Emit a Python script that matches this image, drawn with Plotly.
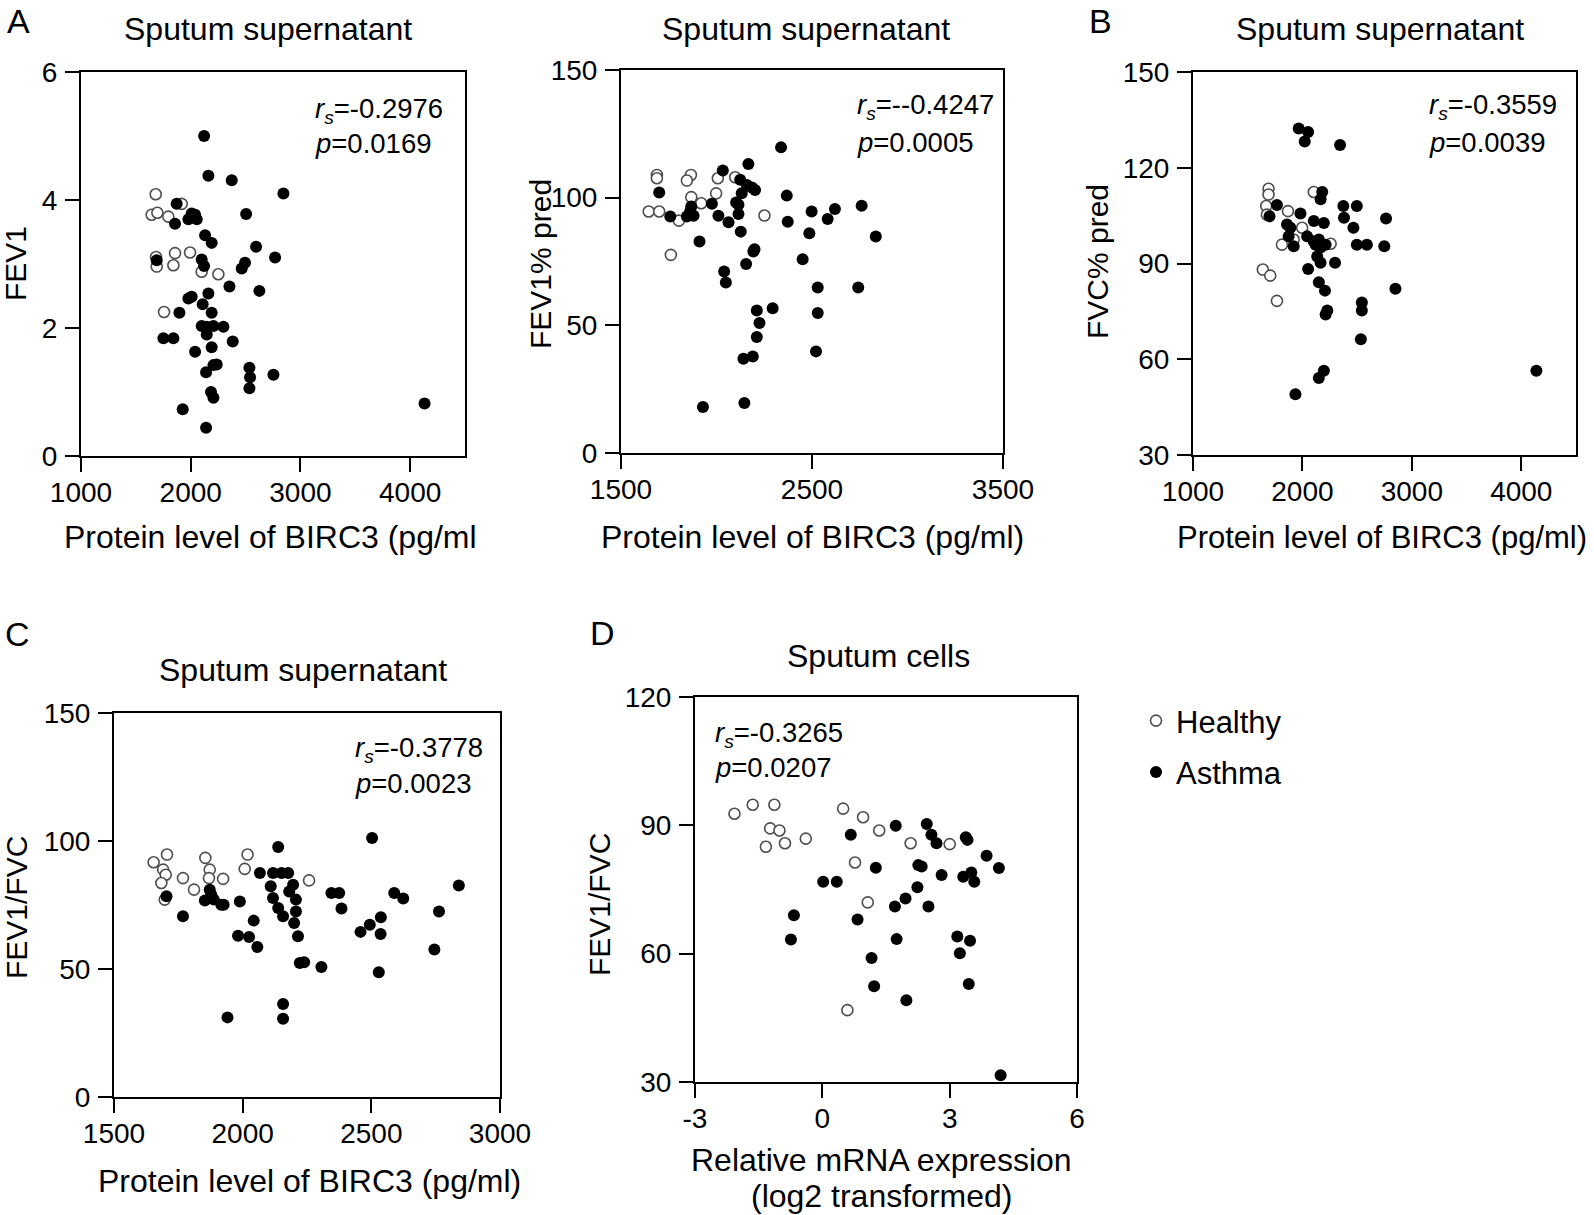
import plotly.graph_objects as go

W, H = 1594, 1215
FONT = "Arial, Liberation Sans, sans-serif"

# ---------------- data ----------------
# Panel A (left): FEV1 vs BIRC3 protein
a1_healthy_x = [1681, 1644, 1696, 1796, 1918, 1684, 1690, 1857, 1842, 1994, 2100, 2252, 1757]
a1_healthy_y = [4.09, 3.77, 3.80, 3.74, 3.94, 3.11, 2.96, 3.17, 2.98, 3.18, 2.88, 2.84, 2.25]
a1_asthma_x = [2122, 2161, 2374, 2845, 1872, 2009, 2040, 1979, 2055, 1857, 2505, 2131, 2191, 2596,
               2769, 1690, 2100, 2122, 2495, 2465, 2353, 2626, 2161, 1979, 2009, 2109, 2191, 1897,
               2100, 2146, 2207, 2298, 2146, 1751, 1842, 2383, 2040, 2191, 2237, 2207, 2140, 2535,
               2541, 2535, 2754, 2185, 2207, 1927, 2140, 4131]
a1_asthma_y = [5.00, 4.38, 4.31, 4.10, 3.94, 3.79, 3.77, 3.70, 3.70, 3.63, 3.78, 3.45, 3.33, 3.27,
               3.10, 3.06, 3.07, 2.97, 3.02, 2.93, 2.65, 2.58, 2.54, 2.46, 2.49, 2.37, 2.24, 2.24,
               2.03, 2.02, 2.03, 2.02, 1.90, 1.84, 1.84, 1.79, 1.63, 1.70, 1.43, 1.42, 1.31, 1.38,
               1.23, 1.06, 1.27, 1.00, 0.91, 0.73, 0.44, 0.82]

# Panel A (right): FEV1% pred vs BIRC3 protein
a2_healthy_x = [1688, 1688, 1866, 1845, 2007, 2098, 1868, 1998, 1920, 1645, 1700, 1803, 2251, 1761]
a2_healthy_y = [108.9, 107.6, 108.9, 106.7, 107.6, 108.0, 100.2, 101.7, 97.8, 94.6, 94.6, 91.0, 93.0, 77.6]
a2_asthma_x = [2338, 2167, 2033, 1700, 2124, 2159, 2185, 2202, 2132, 2368, 2103, 2115, 1976, 1868,
               1862, 1880, 1845, 1758, 2010, 2063, 2115, 2498, 2760, 2620, 2582, 2373, 2127, 2486,
               2834, 1911, 2199, 2193, 2451, 2155, 2040, 2049, 2530, 2742, 2294, 2211, 2225, 2530,
               2211, 2141, 2190, 2521, 1929, 2146]
a2_asthma_y = [119.7, 113.2, 110.6, 102.0, 107.0, 105.0, 104.0, 103.0, 101.7, 100.8, 98.1, 97.2, 97.6, 96.5,
               94.6, 92.9, 92.6, 92.6, 92.9, 90.4, 93.6, 94.6, 96.8, 95.6, 91.6, 90.6, 86.7, 86.1,
               84.8, 82.8, 79.8, 78.9, 75.9, 74.0, 71.1, 66.8, 64.8, 64.8, 56.7, 55.8, 50.9, 54.8,
               45.4, 36.9, 37.8, 39.8, 18.0, 19.6]

# Panel B: FVC% pred vs BIRC3 protein
b_healthy_x = [1690, 1690, 1669, 1675, 1868, 2104, 1997, 1920, 1813, 2258, 1638, 1706, 1767]
b_healthy_y = [113.4, 111.6, 108.0, 105.3, 106.4, 112.4, 101.2, 97.5, 95.9, 96.2, 88.1, 86.2, 78.3]
b_asthma_x = [1966, 2052, 2021, 2344, 2181, 2166, 2374, 2497, 1767, 1699, 1982, 2380, 2764, 2466,
              1859, 1890, 2104, 2196, 1874, 1920, 2043, 2104, 2150, 2212, 2166, 2120, 2497, 2589,
              2748, 2135, 2166, 2298, 2052, 2150, 2206, 2850, 2543, 2543, 2227, 2212, 2534, 2196,
              2150, 1936, 4138]
b_asthma_y = [132.3, 131.2, 128.2, 127.1, 112.4, 110.1, 108.0, 108.0, 108.3, 104.8, 105.7, 104.3, 104.1, 101.2,
              102.2, 101.2, 103.3, 102.7, 98.5, 95.4, 98.5, 96.9, 97.5, 95.9, 95.0, 95.9, 95.9, 95.9,
              95.4, 92.2, 90.2, 90.2, 88.3, 84.1, 81.5, 82.1, 77.8, 75.3, 75.3, 74.0, 66.3, 56.4,
              54.1, 49.0, 56.4]

# Panel C: FEV1/FVC vs BIRC3 protein
c_healthy_x = [1654, 1691, 1701, 1684, 1697, 1706, 1768, 1811, 1855, 1872, 1869, 1924, 2019, 2008, 2258]
c_healthy_y = [91.7, 88.8, 86.8, 83.6, 77.1, 94.7, 85.5, 81.0, 93.4, 88.8, 85.5, 85.2, 94.7, 89.1, 84.6]
c_asthma_x = [2138, 2503, 1704, 1768, 1872, 1878, 1853, 1888, 1917, 1926, 1989, 2067, 2118, 2151,
              2177, 2109, 2118, 2138, 2157, 2196, 2181, 2207, 2207, 2200, 2215, 2222, 2239, 2306,
              1982, 2025, 2043, 2057, 1941, 2157, 2157, 2345, 2375, 2384, 2458, 2494, 2537, 2536,
              2529, 2589, 2624, 2763, 2745, 2840]
c_asthma_y = [97.7, 101.2, 78.4, 70.6, 81.0, 79.0, 76.8, 77.1, 75.1, 75.1, 76.4, 87.5, 87.5, 87.5,
              87.5, 82.3, 77.7, 73.8, 70.6, 82.9, 80.3, 77.1, 72.5, 68.0, 62.8, 52.3, 52.6, 50.8,
              63.0, 62.5, 68.9, 58.6, 31.1, 36.3, 30.6, 79.7, 79.7, 73.6, 64.5, 67.3, 70.2, 63.7,
              48.7, 79.7, 77.5, 72.5, 57.6, 82.6]

# Panel D: FEV1/FVC vs BIRC3 mRNA (log2)
d_healthy_x = [-2.07, -1.64, -1.13, -1.23, -1.01, -1.33, -0.88, -0.39, 0.49, 0.96, 1.34, 0.77, 2.08, 3.00, 1.07, 0.59]
d_healthy_y = [92.7, 94.8, 94.8, 89.3, 88.8, 85.0, 85.8, 86.9, 93.9, 91.9, 88.8, 81.3, 85.8, 85.6, 72.0, 46.8]
d_asthma_x = [0.67, 1.73, 2.46, 2.57, 2.69, 3.38, 3.42, 3.87, 4.16, 1.26, 0.02, 0.34, 2.26, 2.34,
              2.81, 3.32, 3.51, 3.58, 2.24, 1.96, 1.71, 2.50, 0.83, -0.67, -0.74, 1.75, 3.18, 3.24,
              3.48, 1.16, 1.22, 3.45, 1.98, 4.20]
d_asthma_y = [87.8, 89.9, 90.3, 87.8, 85.8, 87.2, 86.6, 82.9, 80.0, 80.1, 76.8, 76.8, 80.7, 80.4,
              78.4, 78.0, 79.0, 76.8, 75.5, 72.9, 71.0, 71.0, 68.0, 69.0, 63.3, 63.4, 64.0, 60.1,
              63.0, 59.0, 52.4, 52.9, 49.1, 31.6]

panel_titles = ["Sputum supernatant", "Sputum supernatant", "Sputum supernatant",
                "Sputum supernatant", "Sputum cells"]
y_titles = ["FEV1", "FEV1% pred", "FVC% pred", "FEV1/FVC", "FEV1/FVC"]
rs_texts = ["-0.2976", "--0.4247", "-0.3559", "-0.3778", "-0.3265"]
p_texts = ["0.0169", "0.0005", "0.0039", "0.0023", "0.0207"]
x_ranges = [[1000, 4500], [1500, 3500], [1000, 4500], [1500, 3000], [-3, 6]]
x_ticks = [[1000, 2000, 3000, 4000], [1500, 2500, 3500], [1000, 2000, 3000, 4000],
           [1500, 2000, 2500, 3000], [-3, 0, 3, 6]]
y_ranges = [[0, 6], [0, 150], [30, 150], [0, 150], [30, 120]]
y_ticks = [[0, 2, 4, 6], [0, 50, 100, 150], [30, 60, 90, 120, 150], [0, 50, 100, 150], [30, 60, 90, 120]]
group_names = ["Healthy", "Asthma"]

healthy = [(a1_healthy_x, a1_healthy_y), (a2_healthy_x, a2_healthy_y), (b_healthy_x, b_healthy_y),
           (c_healthy_x, c_healthy_y), (d_healthy_x, d_healthy_y)]
asthma = [(a1_asthma_x, a1_asthma_y), (a2_asthma_x, a2_asthma_y), (b_asthma_x, b_asthma_y),
          (c_asthma_x, c_asthma_y), (d_asthma_x, d_asthma_y)]

# ---------------- layout geometry (pixels) ----------------
boxes = [(81, 465, 72, 456), (621, 1003, 70, 453), (1193, 1576, 72, 455),
         (114, 500, 713, 1097), (695, 1077, 697, 1082)]


def px(x):
    return x / W


def py(y):
    return 1 - y / H


def fmt(v):
    return str(v)  # plain hyphen-minus as in the reference


fig = go.Figure()
layout = dict(width=W, height=H, margin=dict(l=0, r=0, t=0, b=0, autoexpand=False),
              paper_bgcolor="white", plot_bgcolor="white",
              font=dict(family=FONT, color="black", size=28))

for i in range(5):
    sfx = "" if i == 0 else str(i + 1)
    xa, ya = "x" + sfx, "y" + sfx
    hx, hy = healthy[i]
    ax_, ay_ = asthma[i]
    fig.add_trace(go.Scatter(x=hx, y=hy, mode="markers", name=group_names[0], xaxis=xa, yaxis=ya,
                             legendgroup="h", showlegend=(i == 0),
                             marker=dict(size=11, color="white", symbol="circle",
                                         line=dict(color="#4d4d4d", width=1.6))))
    fig.add_trace(go.Scatter(x=ax_, y=ay_, mode="markers", name=group_names[1], xaxis=xa, yaxis=ya,
                             legendgroup="a", showlegend=(i == 0),
                             marker=dict(size=12, color="black", symbol="circle",
                                         line=dict(color="black", width=0))))
    x0, x1, y0, y1 = boxes[i]
    common = dict(showline=True, linecolor="black", linewidth=2, mirror=True, ticks="outside",
                  ticklen=14, tickwidth=1.5, tickcolor="black", showgrid=False, zeroline=False,
                  tickfont=dict(size=28, family=FONT), fixedrange=True, automargin=False)
    layout["xaxis" + sfx] = dict(domain=[px(x0), px(x1)], range=x_ranges[i], tickvals=x_ticks[i],
                                 ticktext=[fmt(v) for v in x_ticks[i]],
                                 anchor=ya, ticklabelstandoff=-4, **common)
    layout["yaxis" + sfx] = dict(domain=[py(y1), py(y0)], range=y_ranges[i], tickvals=y_ticks[i],
                                 ticktext=[fmt(v) for v in y_ticks[i]],
                                 anchor=xa, ticklabelstandoff=2, **common)

ann = []


def text(x, y, t, size, xanchor="center", yanchor="middle", angle=0):
    ann.append(dict(x=px(x), y=py(y), xref="paper", yref="paper", text=t, showarrow=False,
                    xanchor=xanchor, yanchor=yanchor, textangle=angle,
                    font=dict(size=size, family=FONT, color="black")))


# panel letters
text(18, 21, "A", 34)
text(1100, 21, "B", 34)
text(17, 634, "C", 34)
text(602, 633, "D", 34)

# panel titles
title_pos = [(268, 29), (806, 29), (1380, 29), (303, 670), (878, 656)]
for i, (tx, ty) in enumerate(title_pos):
    text(tx, ty, panel_titles[i], 32)

# y-axis titles
ytitle_pos = [(16, 264), (541, 264), (1097, 262), (16, 908), (599, 905)]
for i, (tx, ty) in enumerate(ytitle_pos):
    text(tx, ty, y_titles[i], 30, angle=-90)

# x-axis titles
text(62, 537, "Protein level of BIRC3 (pg/ml", 32, xanchor="left")
text(812, 537, "Protein level of BIRC3 (pg/ml)", 32)
text(1382, 537, "Protein level of BIRC3 (pg/ml)", 31)
text(309, 1181, "Protein level of BIRC3 (pg/ml)", 32)
text(881, 1160, "Relative mRNA expression", 32)
text(881, 1196, "(log2 transformed)", 32)

# statistics
stat_pos = [(313, 110, 143), (855, 107, 142), (1427, 107, 142), (353, 749, 783), (713, 734, 767)]
for i, (sx, r_y, p_y) in enumerate(stat_pos):
    text(sx, r_y, "<i>r</i><sub><i>s</i></sub>=" + rs_texts[i], 27.5, xanchor="left")
    text(sx, p_y, "<i>p</i>=" + p_texts[i], 27.5, xanchor="left")

layout["annotations"] = ann
layout["legend"] = dict(x=px(1136), y=py(694), xanchor="left", yanchor="top",
                        font=dict(size=31, family=FONT), tracegroupgap=8,
                        bgcolor="rgba(0,0,0,0)", itemwidth=30)

fig.update_layout(**layout)
fig.write_html("out.html", config={"displayModeBar": False},
               post_script="document.body.style.margin='0px';document.body.style.padding='0px';")
